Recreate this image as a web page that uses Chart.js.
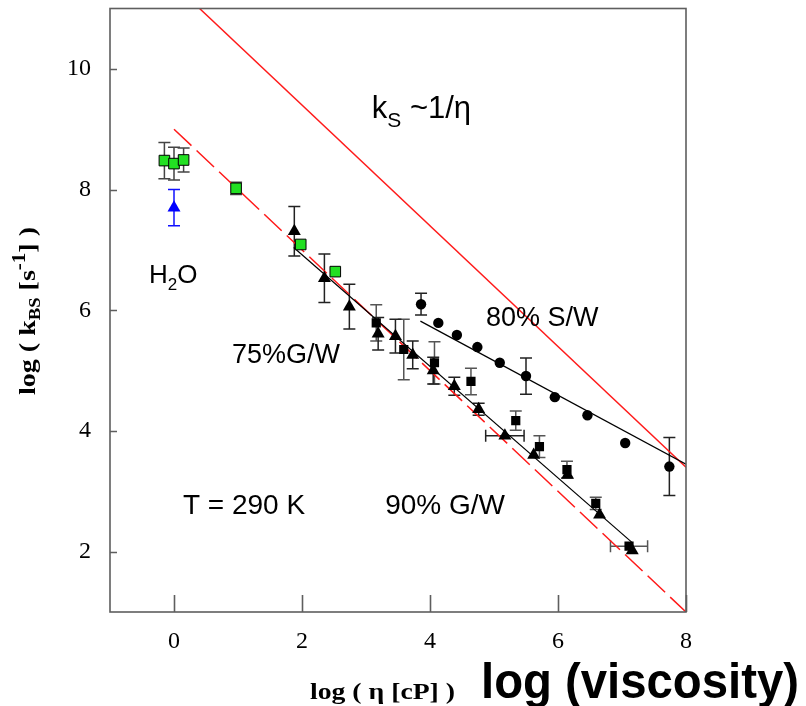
<!DOCTYPE html>
<html>
<head>
<meta charset="utf-8">
<script src="https://cdn.jsdelivr.net/npm/chart.js@4.4.1/dist/chart.umd.min.js"></script>
<style>
  html, body { margin: 0; padding: 0; background: #fff; }
  #myChart { display: block; }
</style>
</head>
<body>
<canvas id="myChart" width="806" height="706"></canvas>
<script>
///////Axes
const xTicks = [0, 2, 4, 6, 8];
const yTicks = [2, 4, 6, 8, 10];

///////Data  (log eta, log k_BS)
// water, green squares
const waterX = [-0.15, 0, 0.15, 0.97, 1.98, 2.52];
const waterY = [8.48, 8.43, 8.49, 8.02, 7.09, 6.64];
const waterErr = [0.3, 0.27, 0.2, 0.1, 0, 0];

// water, blue triangle
const blueX = [0];
const blueY = [7.7];
const blueErr = [0.3];

// glycerol / water, triangles
const triX = [1.88, 2.35, 2.74, 3.19, 3.46, 3.73, 4.05, 4.38, 4.76, 5.17, 5.62, 6.15, 6.65, 7.16];
const triY = [7.31, 6.53, 6.06, 5.61, 5.57, 5.26, 5.0, 4.74, 4.36, 3.92, 3.6, 3.27, 2.61, 2.02];
const triErr = [0.41, 0.4, 0.37, 0.27, 0.28, 0.23, 0.22, 0.15, 0.1, 0, 0, 0, 0, 0];
const triXErr = [0, 0, 0, 0, 0, 0, 0, 0, 0, 0.3, 0, 0, 0, 0];

// glycerol / water, squares
const sqX = [3.16, 3.59, 4.07, 4.64, 5.34, 5.71, 6.14, 6.59, 7.11];
const sqY = [5.79, 5.35, 5.13, 4.82, 4.17, 3.74, 3.36, 2.8, 2.09];
const sqErr = [0.3, 0.5, 0.35, 0.22, 0.16, 0.18, 0.14, 0.1, 0];
const sqXErr = [0, 0, 0, 0, 0, 0, 0, 0, 0.29];

// sucrose / water, circles
const circX = [3.86, 4.13, 4.42, 4.74, 5.09, 5.5, 5.95, 6.46, 7.05, 7.74];
const circY = [6.1, 5.79, 5.59, 5.39, 5.13, 4.91, 4.56, 4.26, 3.8, 3.41];
const circErr = [0.18, 0, 0, 0, 0, 0.3, 0, 0, 0, 0.48];

// k ~ 1/eta lines and fits
const stokesX = [0.4, 8];
const stokesY = [11, 3.4];
const dashX = [0, 8];
const dashY = [9, 1];
const fitGWX = [1.87, 7.16];
const fitGWY = [7.04, 2.15];
const fitSWX = [3.85, 8];
const fitSWY = [5.82, 3.45];

const pts = (xs, ys) => xs.map((v, i) => ({ x: v, y: ys[i] }));

const serif = "'Times New Roman', 'Liberation Serif', serif";
const sans = "Arial, 'Liberation Sans', sans-serif";

////////Error bars
const errorBars = {
  id: 'errorBars',
  beforeDatasetsDraw(chart) {
    const { ctx, scales: { x, y } } = chart;
    ctx.save();
    ctx.lineWidth = 1.5;
    chart.data.datasets.forEach((ds) => {
      if (!ds.errY && !ds.errX) return;
      ctx.strokeStyle = ds.errColor || '#000';
      ds.data.forEach((p, i) => {
        const px = x.getPixelForValue(p.x);
        const py = y.getPixelForValue(p.y);
        const ey = ds.errY ? ds.errY[i] : 0;
        const ex = ds.errX ? ds.errX[i] : 0;
        ctx.beginPath();
        if (ey) {
          const t = y.getPixelForValue(p.y + ey);
          const b = y.getPixelForValue(p.y - ey);
          ctx.moveTo(px, t); ctx.lineTo(px, b);
          ctx.moveTo(px - 6, t); ctx.lineTo(px + 6, t);
          ctx.moveTo(px - 6, b); ctx.lineTo(px + 6, b);
        }
        if (ex) {
          const l = x.getPixelForValue(p.x - ex);
          const r = x.getPixelForValue(p.x + ex);
          ctx.moveTo(l, py); ctx.lineTo(r, py);
          ctx.moveTo(l, py - 6); ctx.lineTo(l, py + 6);
          ctx.moveTo(r, py - 6); ctx.lineTo(r, py + 6);
        }
        ctx.stroke();
      });
    });
    ctx.restore();
  }
};

////////Box + inside ticks
const frame = {
  id: 'frame',
  afterDatasetsDraw(chart) {
    const { ctx, chartArea: a, scales: { x, y } } = chart;
    ctx.save();
    ctx.strokeStyle = '#5e5e5e';
    ctx.lineWidth = 1.6;
    ctx.strokeRect(a.left, a.top, a.right - a.left, a.bottom - a.top);
    ctx.beginPath();
    xTicks.forEach((v) => {
      const px = Math.round(x.getPixelForValue(v)) + 0.5;
      ctx.moveTo(px, a.bottom);
      ctx.lineTo(px, a.bottom - 17);
    });
    yTicks.forEach((v) => {
      const py = Math.round(y.getPixelForValue(v)) + 0.5;
      ctx.moveTo(a.left, py);
      ctx.lineTo(a.left + 7, py);
    });
    ctx.stroke();
    ctx.restore();
  }
};

////////Texts
// runs of text with sub/superscripts, optionally stretched to a width
const runWidth = (ctx, runs) =>
  runs.reduce((w, r) => {
    ctx.font = r.font;
    return w + ctx.measureText(r.text).width;
  }, 0);

const drawRuns = (ctx, runs, x, y, fitWidth) => {
  ctx.save();
  ctx.translate(x, y);
  if (fitWidth) ctx.scale(fitWidth / runWidth(ctx, runs), 1);
  let cx = 0;
  runs.forEach((r) => {
    ctx.font = r.font;
    ctx.fillText(r.text, cx, r.dy || 0);
    cx += ctx.measureText(r.text).width;
  });
  ctx.restore();
};

const notes = [
  { at: [3.09, 9.19], runs: [
    { text: 'k', font: `31px ${sans}` },
    { text: 'S', font: `21px ${sans}`, dy: 9 },
    { text: ' ~1/η', font: `31px ${sans}` }] },
  { at: [-0.39, 6.45], runs: [
    { text: 'H', font: `26px ${sans}` },
    { text: '2', font: `17px ${sans}`, dy: 7 },
    { text: 'O', font: `26px ${sans}` }] },
  { at: [4.875, 5.74], runs: [{ text: '80% S/W', font: `27px ${sans}` }] },
  { at: [0.906, 5.12], runs: [{ text: '75%G/W', font: `27px ${sans}` }] },
  { at: [0.14, 2.63], runs: [{ text: 'T = 290 K', font: `28px ${sans}` }] },
  { at: [3.3, 2.63], runs: [{ text: '90% G/W', font: `28px ${sans}` }] }
];

const texts = {
  id: 'texts',
  afterDraw(chart) {
    const { ctx, scales: { x, y } } = chart;
    ctx.save();
    ctx.fillStyle = '#000';
    ctx.textBaseline = 'alphabetic';
    ctx.textAlign = 'left';
    notes.forEach((n) => {
      drawRuns(ctx, n.runs, x.getPixelForValue(n.at[0]), y.getPixelForValue(n.at[1]));
    });

    // y title, rotated
    const yTitle = [
      { text: 'log ( k', font: `bold 24px ${serif}` },
      { text: 'BS', font: `bold 16px ${serif}`, dy: 5 },
      { text: ' [s', font: `bold 24px ${serif}` },
      { text: '-1', font: `bold 18px ${serif}`, dy: -10 },
      { text: '] )', font: `bold 24px ${serif}` }
    ];
    ctx.save();
    ctx.translate(35, 395);
    ctx.rotate(-Math.PI / 2);
    drawRuns(ctx, yTitle, 0, 0, 168);
    ctx.restore();

    // x title
    drawRuns(ctx, [{ text: 'log ( η [cP] )', font: `bold 23px ${serif}` }], 310, 699, 145);
    drawRuns(ctx, [{ text: 'log (viscosity)', font: `bold 50px ${sans}` }], 481, 698, 318);
    ctx.restore();
  }
};

//////Chart
const ctx = document.getElementById('myChart').getContext('2d');
const line = (xs, ys, color, width, dash) => ({
  data: pts(xs, ys),
  showLine: true,
  pointRadius: 0,
  borderColor: color,
  borderWidth: width,
  borderDash: dash || [],
  fill: false
});

const chart = new Chart(ctx, {
  type: 'scatter',
  data: {
    datasets: [
      { data: pts(waterX, waterY), errY: waterErr, errColor: '#444',
        pointStyle: 'rect', pointRadius: 7.5, backgroundColor: '#22e022',
        borderColor: '#000', borderWidth: 1 },
      { data: pts(blueX, blueY), errY: blueErr, errColor: '#1010ff',
        pointStyle: 'triangle', pointRadius: 7.5, backgroundColor: '#0000ff',
        borderColor: '#0000ff', borderWidth: 0 },
      { data: pts(circX, circY), errY: circErr, errColor: '#222',
        pointStyle: 'circle', pointRadius: 5.2, backgroundColor: '#000',
        borderColor: '#000', borderWidth: 0 },
      { data: pts(sqX, sqY), errY: sqErr, errX: sqXErr, errColor: '#555',
        pointStyle: 'rect', pointRadius: 6.5, backgroundColor: '#000',
        borderColor: '#000', borderWidth: 0 },
      { data: pts(triX, triY), errY: triErr, errX: triXErr, errColor: '#222',
        pointStyle: 'triangle', pointRadius: 7.5, backgroundColor: '#000',
        borderColor: '#000', borderWidth: 0 },
      line(fitGWX, fitGWY, '#000', 1.2),
      line(fitSWX, fitSWY, '#000', 1.2),
      line(dashX, dashY, '#ff1a1a', 1.5, [24, 7]),
      line(stokesX, stokesY, '#ff1a1a', 1.5)
    ]
  },
  options: {
    responsive: false,
    animation: false,
    events: [],
    layout: { padding: { left: 0, right: 120, top: 8, bottom: 0 } },
    plugins: { legend: { display: false }, tooltip: { enabled: false } },
    scales: {
      x: {
        type: 'linear',
        min: -1,
        max: 8,
        afterBuildTicks: (s) => { s.ticks = xTicks.map((v) => ({ value: v })); },
        afterFit: (s) => { s.height = 94; s.paddingLeft = 0; s.paddingRight = 0; },
        grid: { display: false, drawTicks: false },
        border: { display: false },
        ticks: { color: '#000', padding: 15, font: { family: serif, size: 24 } }
      },
      y: {
        type: 'linear',
        min: 1,
        max: 11,
        afterBuildTicks: (s) => { s.ticks = yTicks.map((v) => ({ value: v })); },
        afterFit: (s) => { s.width = 110; s.paddingTop = 0; s.paddingBottom = 0; },
        grid: { display: false, drawTicks: false },
        border: { display: false },
        ticks: { color: '#000', padding: 19, font: { family: serif, size: 24 } }
      }
    }
  },
  plugins: [errorBars, frame, texts]
});
</script>
</body>
</html>
